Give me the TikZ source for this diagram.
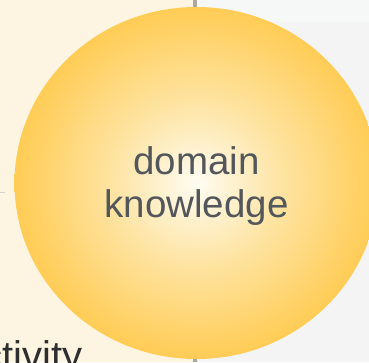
\documentclass[tikz,border=0pt]{standalone}
\usepackage{fontspec}
\usetikzlibrary{shapes.geometric}
\setmainfont{Liberation Sans}
\definecolor{cream}{HTML}{FDF5E1}
\definecolor{greybg}{HTML}{F4F4F4}
\definecolor{greytop}{HTML}{F6F7F7}
\definecolor{divider}{HTML}{ABA8A2}
\definecolor{dkin}{HTML}{FFFCF2}
\definecolor{dkmid}{HTML}{FEE3A0}
\definecolor{dkout}{HTML}{FFCC55}
\definecolor{dktext}{HTML}{53575B}
\definecolor{acttext}{HTML}{2E2E2E}
\pgfdeclareradialshading{dkshade}{\pgfpoint{0bp}{0bp}}{color(0bp)=(dkin); color(12bp)=(dkmid); color(25bp)=(dkout); color(50bp)=(dkout)}
\begin{document}
\begin{tikzpicture}[x=1pt,y=1pt,
  bigtext/.style={font=\fontsize{38.5}{43}\selectfont, align=center, inner sep=0pt}]
\useasboundingbox (0,0) rectangle (369,362);
\clip (0,0) rectangle (369,362);
% backgrounds
\fill[cream] (0,0) rectangle (194,362);
\fill[greybg] (194,0) rectangle (369,362);
\fill[greytop] (197,340) rectangle (369,362);
\draw[divider, line width=3.5pt] (195,0) -- (195,362);
% faint connector end at left
\coordinate (lend) at (0,170);
\coordinate (lend2) at (5,170);
\draw[divider!50, line width=0.8pt] (lend) -- (lend2);
% circle
\node[ellipse, minimum width=364pt, minimum height=352pt, inner sep=0pt, shading=dkshade, draw=none] (dk) at (196.5,179) {};
\node[bigtext, text=dktext] (dklabel) at (196.5,176) {domain\\knowledge};
% partial text at bottom left
\node[anchor=base west, font=\fontsize{40}{44}\selectfont, text=acttext, inner sep=0pt] (act) at (-18,-7) {ctivity};
\end{tikzpicture}
\end{document}
